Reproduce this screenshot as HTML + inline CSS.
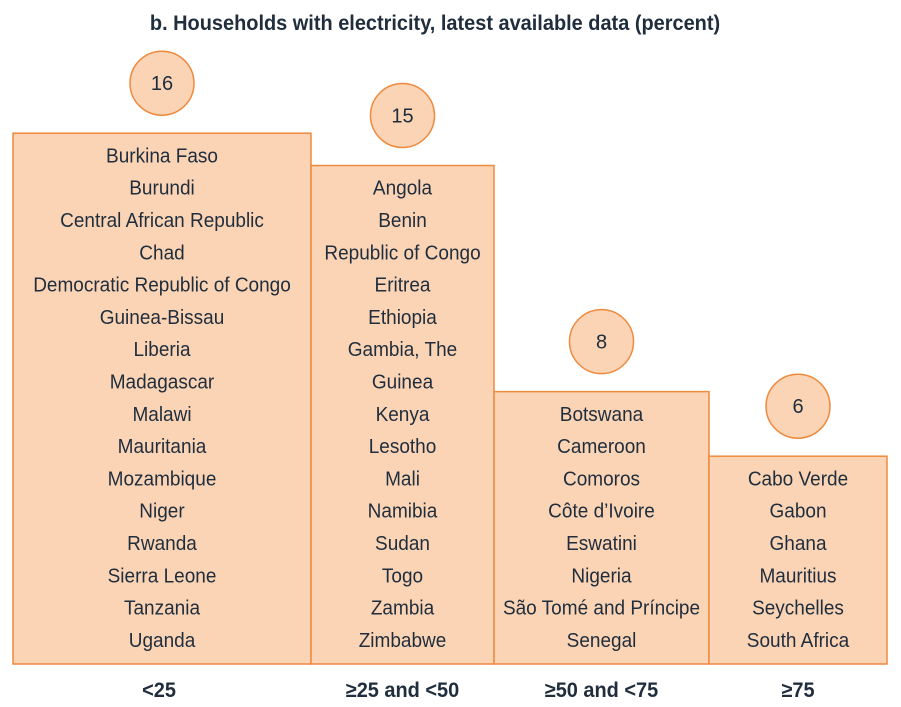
<!DOCTYPE html>
<html><head><meta charset="utf-8"><style>
body{margin:0;background:#fff;}
svg{display:block;font-family:"Liberation Sans",sans-serif;}
</style></head><body>
<svg id="chart" width="901" height="707" viewBox="0 0 901 707">
<text x="0" y="0" text-anchor="middle" font-size="21" font-weight="bold" fill="#1f2d3d" transform="translate(435,30) scale(0.95,1)">b. Households with electricity, latest available data (percent)</text>
<g id="plot"></g>
</svg>
<script>
const categories = ["<25", "≥25 and <50", "≥50 and <75", "≥75"];
const counts = [16, 15, 8, 6];
const countriesLow = ["Burkina Faso","Burundi","Central African Republic","Chad","Democratic Republic of Congo","Guinea-Bissau","Liberia","Madagascar","Malawi","Mauritania","Mozambique","Niger","Rwanda","Sierra Leone","Tanzania","Uganda"];
const countriesMidLow = ["Angola","Benin","Republic of Congo","Eritrea","Ethiopia","Gambia, The","Guinea","Kenya","Lesotho","Mali","Namibia","Sudan","Togo","Zambia","Zimbabwe"];
const countriesMidHigh = ["Botswana","Cameroon","Comoros","Côte d’Ivoire","Eswatini","Nigeria","São Tomé and Príncipe","Senegal"];
const countriesHigh = ["Cabo Verde","Gabon","Ghana","Mauritius","Seychelles","South Africa"];
const lists = [countriesLow, countriesMidLow, countriesMidHigh, countriesHigh];

const NS = "http://www.w3.org/2000/svg";
const g = document.getElementById("plot");
const edges = [13, 311, 494, 709, 887];
const baseY = 664, rowH = 32.3;
const yTop = n => baseY - (n * rowH + 14);
function mk(tag, attrs){const e=document.createElementNS(NS,tag);for(const k in attrs)e.setAttribute(k,attrs[k]);g.appendChild(e);return e;}
const fill="#fad4b5", stroke="#ef8a3e", ink="#1f2d3d";
categories.forEach((cat,i)=>{
  const x0=edges[i], x1=edges[i+1], cx=(x0+x1)/2, top=yTop(counts[i]);
  const r=mk("rect",{x:x0,y:top,width:x1-x0,height:baseY-top,fill:fill,stroke:stroke,"stroke-width":1.5});
  
  
  const c=mk("circle",{cx:cx,cy:top-50,r:32,fill:fill,stroke:stroke,"stroke-width":1.5});
  
  
  const ct=mk("text",{x:cx,y:top-43,"text-anchor":"middle","font-size":20,fill:ink});
  ct.textContent=counts[i];
  
  
  const list=lists[i], mid=(top+baseY)/2, start=mid-(list.length-1)*rowH/2;
  list.forEach((name,j)=>{
    const y=start+j*rowH+6;
    const t=mk("text",{"text-anchor":"middle","font-size":20,fill:ink,transform:`translate(${cx},${y}) scale(0.95,1)`});
    t.textContent=name;
    
    
  });
  const lt=mk("text",{"text-anchor":"middle","font-size":21,"font-weight":"bold",fill:ink,transform:`translate(${cx-(i==0?3:0)},697) scale(0.95,1)`});
  lt.textContent=cat;
  
  
});
</script>
</body></html>
